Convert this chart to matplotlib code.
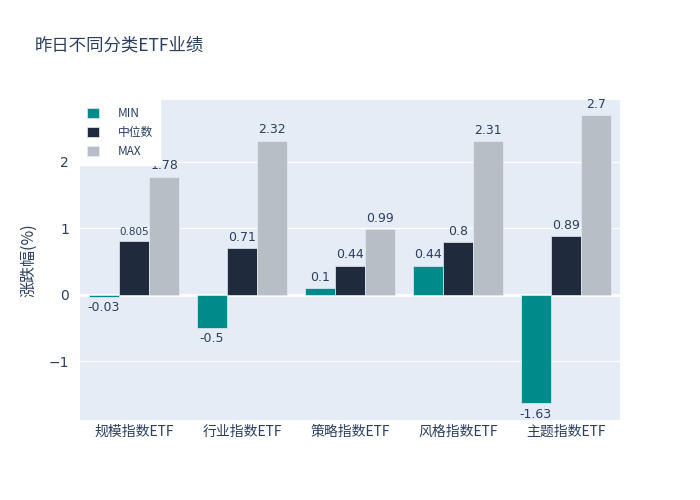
import numpy as np
import matplotlib
matplotlib.use("Agg")
import matplotlib.pyplot as plt

plt.rcParams["font.family"] = ["Noto Sans CJK SC", "DejaVu Sans"]
plt.rcParams["axes.unicode_minus"] = True

categories = ["规模指数ETF", "行业指数ETF", "策略指数ETF", "风格指数ETF", "主题指数ETF"]
min_vals = [-0.03, -0.5, 0.1, 0.44, -1.63]
mid_vals = [0.805, 0.71, 0.44, 0.8, 0.89]
max_vals = [1.78, 2.32, 0.99, 2.31, 2.7]
series_names = ["MIN", "中位数", "MAX"]

TXT = "#2a3f5f"
BG = "#e5ecf6"
colors = ["#008b8b", "#1f2a3c", "#b8bec6"]

fig = plt.figure(figsize=(7, 5), dpi=100)
ax = fig.add_axes([80 / 700, 80 / 500, 540 / 700, 320 / 500])
ax.set_facecolor(BG)
for s in ax.spines.values():
    s.set_visible(False)

x = np.arange(len(categories))
w = 0.28
offsets = [-w, 0, w]
for vals, name, col, off in zip([min_vals, mid_vals, max_vals], series_names, colors, offsets):
    bars = ax.bar(x + off, vals, w, color=col, edgecolor=BG, linewidth=0.5, label=name, zorder=3)
    for b, v in zip(bars, vals):
        # plotly shrank this one label to fit the bar
        fs = 7.5 if v == 0.805 else 9
        txt = f"{v:g}"
        if v >= 0:
            ax.annotate(txt, (b.get_x() + b.get_width() / 2, v), xytext=(0, 3),
                        textcoords="offset points", ha="center", va="bottom",
                        fontsize=fs, color=TXT, family="DejaVu Sans", zorder=4)
        else:
            ax.annotate(txt, (b.get_x() + b.get_width() / 2, v), xytext=(0, -3),
                        textcoords="offset points", ha="center", va="top",
                        fontsize=fs, color=TXT, family="DejaVu Sans", zorder=4)

ax.set_xlim(-0.5, len(categories) - 0.5)
ax.set_ylim(-1.88, 2.93)
ax.set_yticks([-1, 0, 1, 2])
ax.set_yticklabels(["−1", "0", "1", "2"], family="DejaVu Sans")
ax.set_xticks(x)
ax.set_xticklabels(categories)
ax.tick_params(axis="both", length=0, colors=TXT, labelsize=10)
ax.tick_params(axis="y", pad=8)
ax.grid(axis="y", color="white", lw=1, zorder=0)
ax.axhline(0, color="white", lw=2, zorder=1)
ax.set_ylabel("涨跌幅(%)", color=TXT, fontsize=11.5, labelpad=8)

leg = ax.legend(loc="upper left", bbox_to_anchor=(0, 1), frameon=True, fancybox=False,
                facecolor="white", edgecolor="white", framealpha=1, fontsize=8.5,
                labelcolor=TXT, handlelength=1.0, handleheight=1.0,
                borderaxespad=0, borderpad=0.6, labelspacing=0.5, handletextpad=1.6)
leg.set_zorder(5)

fig.text(35 / 700, 1 - 45 / 500, "昨日不同分类ETF业绩", fontsize=12.5, color=TXT, va="center")

fig.savefig("out.png", dpi=100, facecolor="white")
